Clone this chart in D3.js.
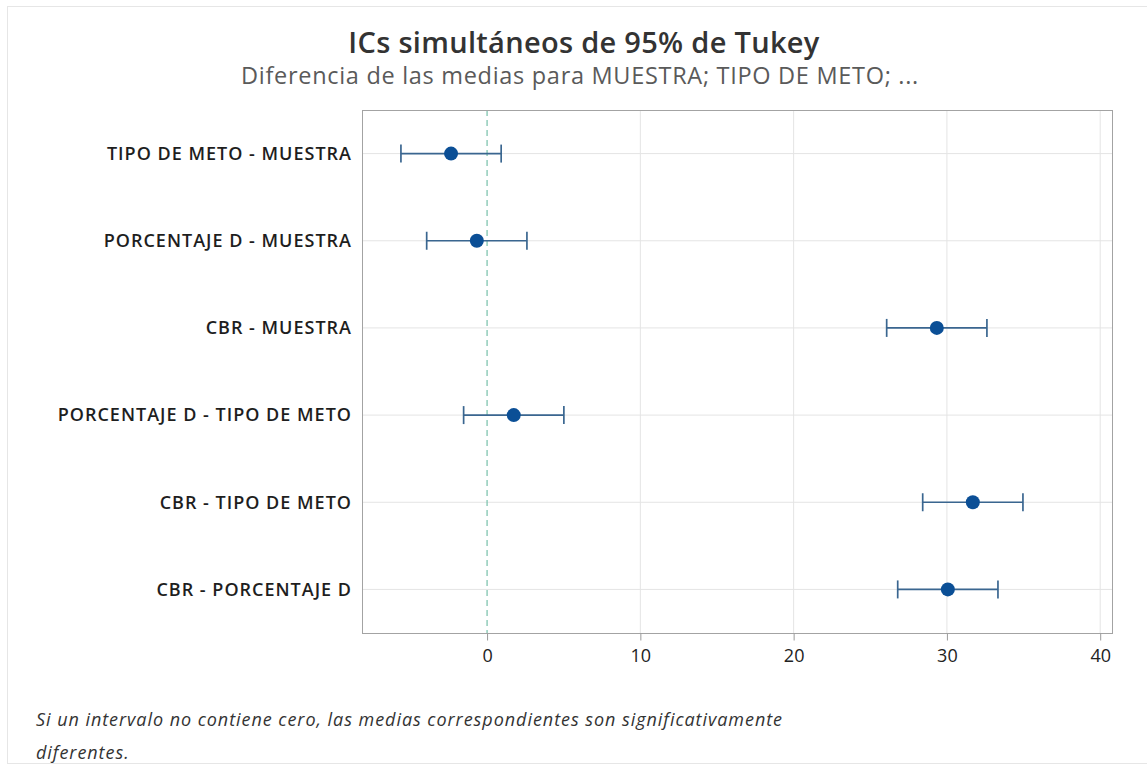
<!DOCTYPE html>
<html>
<head>
<meta charset="utf-8">
<script src="https://cdn.jsdelivr.net/npm/d3@7"></script>
<style>
  html, body { margin: 0; padding: 0; background: #fff; }
  svg { display: block; }
</style>
</head>
<body>
<svg id="chart" width="1147" height="771"></svg>
<script>
// Tukey 95% simultaneous confidence intervals for pairwise mean differences
const comparisons = [
  "TIPO DE METO - MUESTRA",
  "PORCENTAJE D - MUESTRA",
  "CBR - MUESTRA",
  "PORCENTAJE D - TIPO DE METO",
  "CBR - TIPO DE METO",
  "CBR - PORCENTAJE D"
];
const centers = [-2.35, -0.67, 29.34, 1.74, 31.69, 30.06];
const lowers  = [-5.62, -3.94, 26.07, -1.53, 28.42, 26.79];
const uppers  = [ 0.92,  2.60, 32.61,  5.01, 34.96, 33.33];
const xTicks = [0, 10, 20, 30, 40];

const titleText = "ICs simultáneos de 95% de Tukey";
const subtitleText = "Diferencia de las medias para MUESTRA; TIPO DE METO; ...";
const noteLines = [
  "Si un intervalo no contiene cero, las medias correspondientes son significativamente",
  "diferentes."
];

const svg = d3.select("#chart");
const W = 1147, H = 771;
const plot = { left: 362, right: 1112, top: 110, bottom: 633 };
const FONT = "'Open Sans', sans-serif";

// light outer frame
svg.append("rect")
  .attr("x", 7.5).attr("y", 6.5)
  .attr("width", W + 10).attr("height", 757)
  .attr("fill", "none").attr("stroke", "#e6e6e6").attr("stroke-width", 1);

const x = d3.scaleLinear().domain([-8.16, 40.77]).range([plot.left, plot.right]);
const y = d3.scalePoint().domain(comparisons).range([plot.top, plot.bottom]).padding(0.5);

// gridlines
const grid = svg.append("g");
grid.selectAll("line.v").data(xTicks.filter(t => t !== 0)).join("line")
  .attr("x1", d => x(d)).attr("x2", d => x(d))
  .attr("y1", plot.top).attr("y2", plot.bottom)
  .attr("stroke", "#e4e4e4").attr("stroke-width", 1);
grid.selectAll("line.h").data(comparisons).join("line")
  .attr("x1", plot.left).attr("x2", plot.right)
  .attr("y1", d => y(d)).attr("y2", d => y(d))
  .attr("stroke", "#e4e4e4").attr("stroke-width", 1);

// zero reference line
svg.append("line")
  .attr("x1", x(0)).attr("x2", x(0))
  .attr("y1", plot.top).attr("y2", plot.bottom)
  .attr("stroke", "#80c4b0").attr("stroke-width", 1.3)
  .attr("stroke-dasharray", "6,4");

// plot frame
svg.append("rect")
  .attr("x", plot.left + 0.5).attr("y", plot.top + 0.5)
  .attr("width", plot.right - plot.left).attr("height", plot.bottom - plot.top)
  .attr("fill", "none").attr("stroke", "#a3a3a3").attr("stroke-width", 1);

// x axis
const xAxis = svg.append("g")
  .attr("transform", `translate(0,${plot.bottom + 0.5})`)
  .call(d3.axisBottom(x).tickValues(xTicks).tickSize(7).tickPadding(9).tickFormat(d3.format("d")));
xAxis.select(".domain").remove();
xAxis.selectAll(".tick line").attr("stroke", "#9a9a9a");
xAxis.selectAll(".tick text")
  .attr("fill", "#222").attr("font-family", FONT).attr("font-size", 18);

// y labels
svg.append("g").selectAll("text").data(comparisons).join("text")
  .attr("x", plot.left - 10).attr("y", d => y(d))
  .attr("dy", "0.35em").attr("text-anchor", "end")
  .attr("fill", "#1e1e1e").attr("font-family", FONT)
  .attr("font-size", 18).attr("font-weight", 600)
  .attr("letter-spacing", 1)
  .text(d => d);

// intervals
const rows = comparisons.map((c, i) => ({ c, m: centers[i], lo: lowers[i], hi: uppers[i] }));
const bars = svg.append("g").selectAll("g").data(rows).join("g");
const barColor = "#3a6690";
bars.append("line")
  .attr("x1", d => x(d.lo)).attr("x2", d => x(d.hi))
  .attr("y1", d => y(d.c)).attr("y2", d => y(d.c))
  .attr("stroke", barColor).attr("stroke-width", 1.7);
bars.append("line")
  .attr("x1", d => x(d.lo)).attr("x2", d => x(d.lo))
  .attr("y1", d => y(d.c) - 9).attr("y2", d => y(d.c) + 9)
  .attr("stroke", barColor).attr("stroke-width", 1.7);
bars.append("line")
  .attr("x1", d => x(d.hi)).attr("x2", d => x(d.hi))
  .attr("y1", d => y(d.c) - 9).attr("y2", d => y(d.c) + 9)
  .attr("stroke", barColor).attr("stroke-width", 1.7);
bars.append("circle")
  .attr("cx", d => x(d.m)).attr("cy", d => y(d.c)).attr("r", 7)
  .attr("fill", "#0b4f96");

// titles
svg.append("text")
  .attr("x", 584).attr("y", 53).attr("text-anchor", "middle")
  .attr("fill", "#333").attr("font-family", FONT)
  .attr("font-size", 29).attr("font-weight", 600)
  .attr("letter-spacing", 0.3)
  .text(titleText);
svg.append("text")
  .attr("x", 580).attr("y", 84).attr("text-anchor", "middle")
  .attr("fill", "#5a5a5a").attr("font-family", FONT)
  .attr("font-size", 23.5)
  .attr("letter-spacing", 0.7)
  .text(subtitleText);

// footnote
svg.append("g").selectAll("text").data(noteLines).join("text")
  .attr("x", 36).attr("y", (d, i) => 726 + i * 33)
  .attr("fill", "#333").attr("font-family", FONT)
  .attr("font-size", 18).attr("font-style", "italic")
  .attr("letter-spacing", 0.95)
  .text(d => d);
</script>
</body>
</html>
